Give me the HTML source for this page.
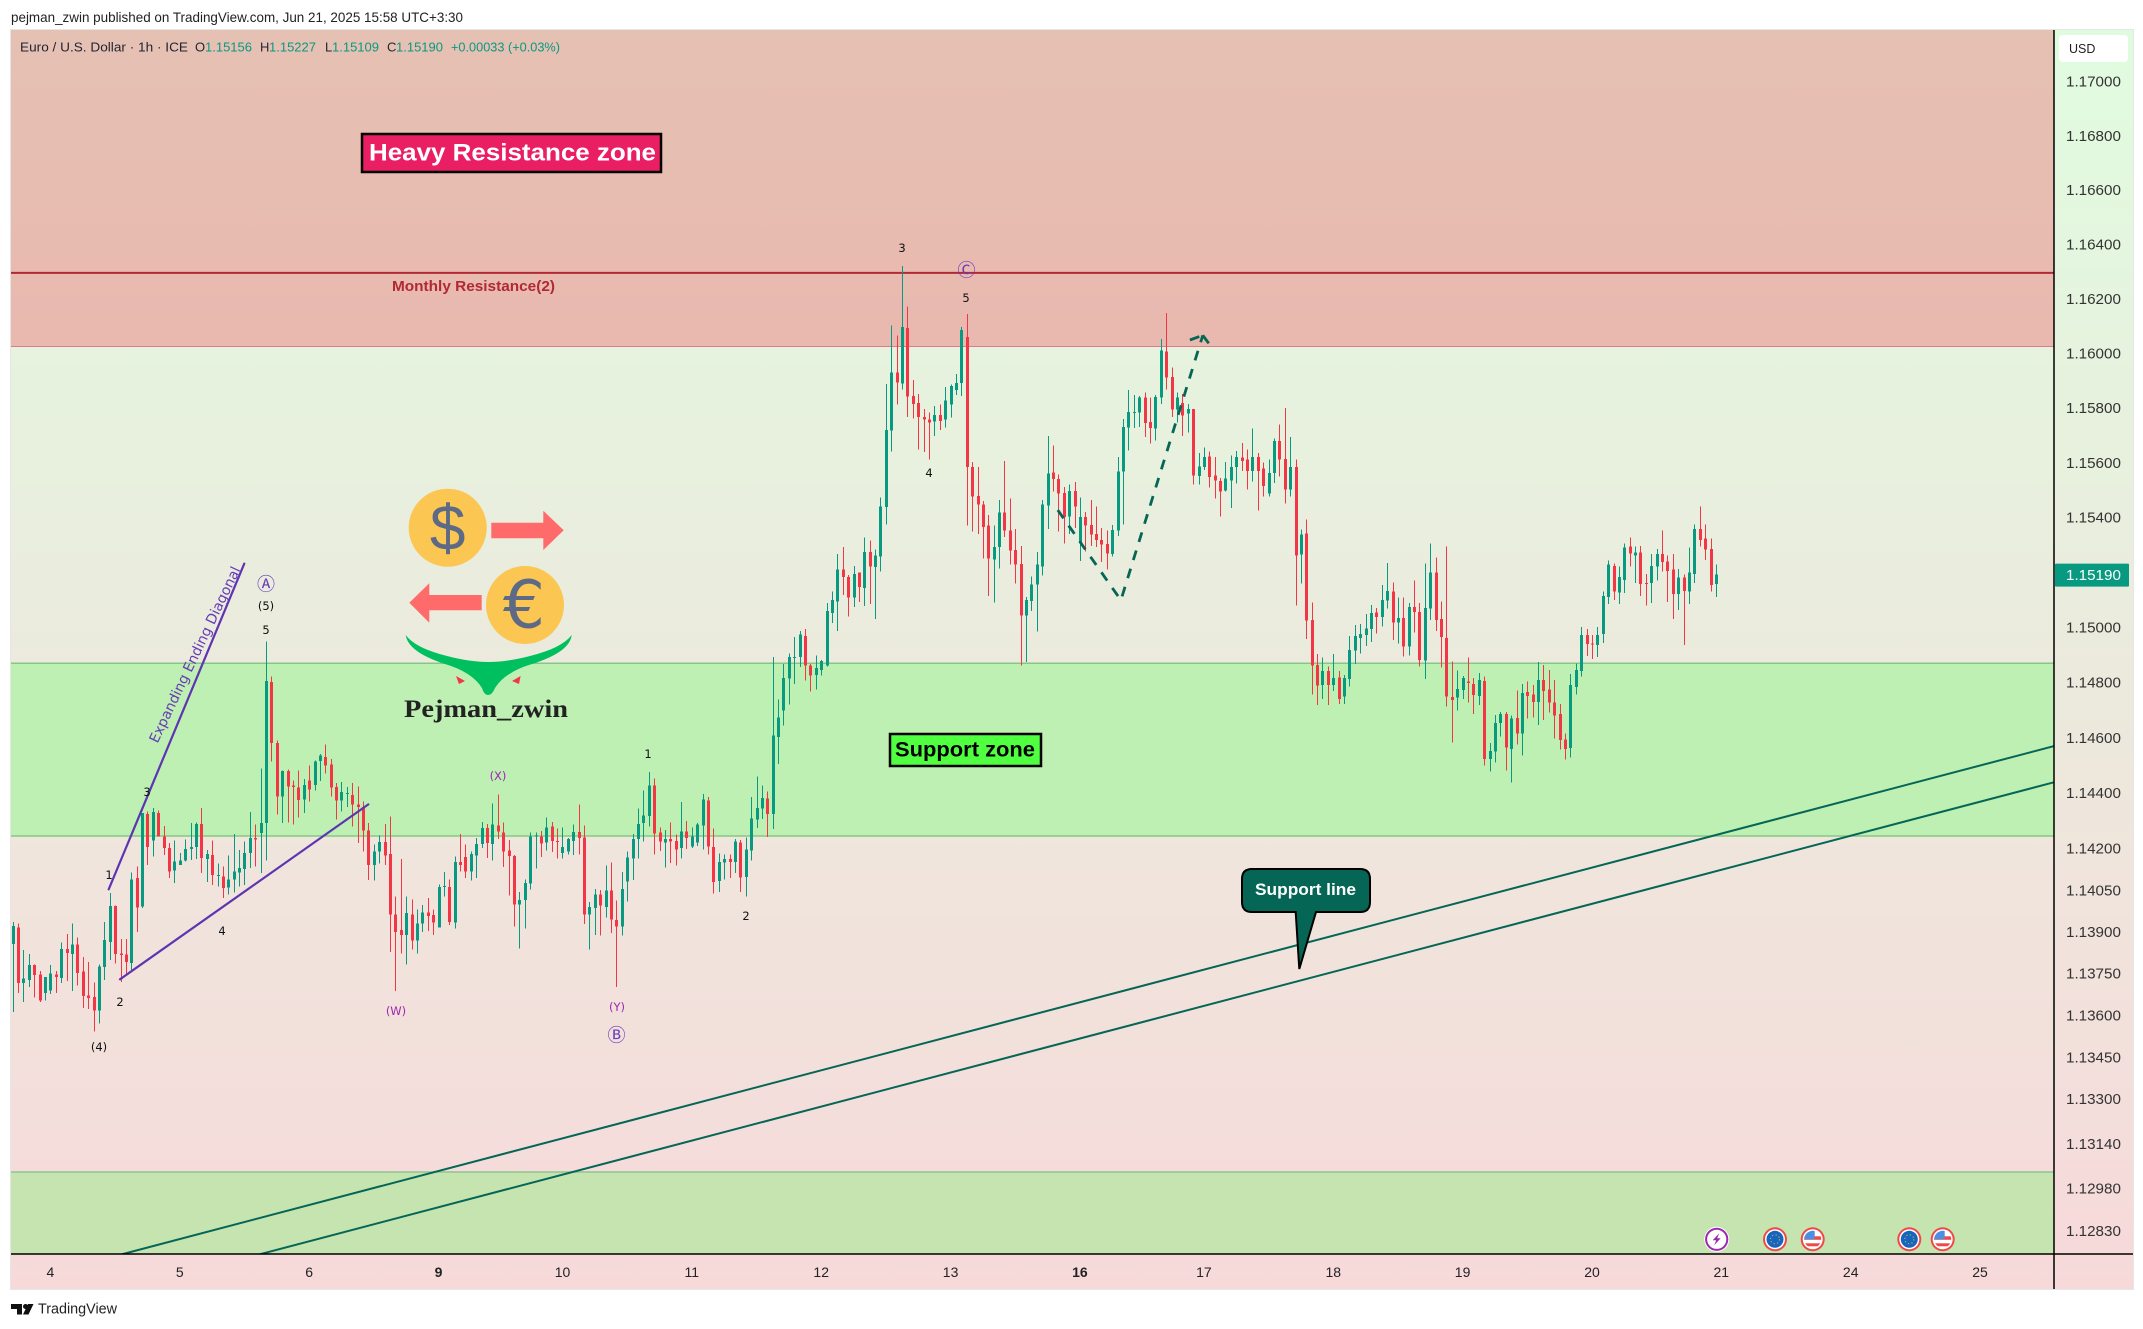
<!DOCTYPE html>
<html lang="en">
<head>
<meta charset="utf-8">
<title>EUR/USD 1h chart</title>
<style>
html,body{margin:0;padding:0;background:#fff;width:2143px;height:1329px;overflow:hidden}
svg{display:block}
text{font-family:"Liberation Sans",Arial,sans-serif}
.wave{font-family:"DejaVu Sans",sans-serif;font-size:11.5px;fill:#111;text-anchor:middle;dominant-baseline:central}
.wavep{font-family:"DejaVu Sans",sans-serif;font-size:11.5px;fill:#9c27b0;text-anchor:middle;dominant-baseline:central}
.circ{font-family:"DejaVu Sans",sans-serif;font-size:18px;fill:#673ab7;text-anchor:middle;dominant-baseline:central}
.leg{font-size:13px;fill:#1f2430;dominant-baseline:central}
.legv{font-size:13px;fill:#089981;dominant-baseline:central}
</style>
</head>
<body>
<svg id="chart" xmlns="http://www.w3.org/2000/svg" width="2143" height="1329" viewBox="0 0 2143 1329">
<defs>
<linearGradient id="bgGrad" x1="0" y1="0" x2="0" y2="1"><stop offset="0" stop-color="#e0fce0"/><stop offset="1" stop-color="#f7d9da"/></linearGradient>
<linearGradient id="resGrad" x1="0" y1="0" x2="0" y2="1"><stop offset="0" stop-color="#e5c1b3"/><stop offset="1" stop-color="#e9b8af"/></linearGradient>
<clipPath id="plotClip"><rect x="11" y="30" width="2043" height="1224"/></clipPath>
<clipPath id="flagClip"><circle r="8.5"/></clipPath>
</defs>
<rect x="10.5" y="29.5" width="2123" height="1260" fill="url(#bgGrad)" stroke="#e6e6e6"/>
<g id="zones"></g>
<g id="supportLines" clip-path="url(#plotClip)"></g>
<g id="candles" shape-rendering="crispEdges"></g>
<g id="drawings"></g>

<text x="11" y="17" font-size="14" fill="#222" dominant-baseline="central" textLength="452" lengthAdjust="spacingAndGlyphs">pejman_zwin published on TradingView.com, Jun 21, 2025 15:58 UTC+3:30</text>

<g>
<text class="leg" x="20" y="47" textLength="168" lengthAdjust="spacingAndGlyphs">Euro / U.S. Dollar · 1h · ICE</text>
<text class="leg" x="195" y="47">O</text><text class="legv" x="205" y="47">1.15156</text>
<text class="leg" x="260" y="47">H</text><text class="legv" x="269" y="47">1.15227</text>
<text class="leg" x="325" y="47">L</text><text class="legv" x="332" y="47">1.15109</text>
<text class="leg" x="387" y="47">C</text><text class="legv" x="396" y="47">1.15190</text>
<text class="legv" x="451" y="47" textLength="109" lengthAdjust="spacingAndGlyphs">+0.00033 (+0.03%)</text>
</g>

<g>
<rect x="362" y="134" width="299" height="38" fill="#e91e63" stroke="#000" stroke-width="2.5"/>
<text x="369" y="153" font-size="24.4" font-weight="bold" fill="#fff" dominant-baseline="central" textLength="287" lengthAdjust="spacingAndGlyphs">Heavy Resistance zone</text>
</g>
<text x="392" y="287" font-size="14.5" font-weight="bold" fill="#b22833" dominant-baseline="central" textLength="163" lengthAdjust="spacingAndGlyphs">Monthly Resistance(2)</text>

<g>
<rect x="890" y="734" width="151" height="32" fill="#50ff40" stroke="#000" stroke-width="2.5"/>
<text x="895" y="750" font-size="21" font-weight="bold" fill="#000" dominant-baseline="central" textLength="140" lengthAdjust="spacingAndGlyphs">Support zone</text>
</g>

<g>
<path d="M1252 869 H1360 Q1370 869 1370 879 V902 Q1370 912 1360 912 H1316 L1299.3 969 L1295.7 912 H1252 Q1242 912 1242 902 V879 Q1242 869 1252 869 Z" fill="#056656" stroke="#000" stroke-width="2"/>
<text x="1255" y="890" font-size="16.5" font-weight="bold" fill="#fff" dominant-baseline="central" textLength="101" lengthAdjust="spacingAndGlyphs">Support line</text>
</g>

<g>
<text class="wave" x="109" y="875">1</text>
<text class="wave" x="147" y="792">3</text>
<text class="wave" x="120" y="1002">2</text>
<text class="wave" x="222" y="931">4</text>
<text class="wave" x="99" y="1047">(4)</text>
<text class="wave" x="266" y="630">5</text>
<text class="wave" x="266" y="606">(5)</text>
<text class="circ" x="266" y="585">Ⓐ</text>
<text class="wavep" x="396" y="1011">(W)</text>
<text class="wavep" x="498" y="776">(X)</text>
<text class="wavep" x="617" y="1007">(Y)</text>
<text class="circ" x="616.5" y="1036">Ⓑ</text>
<text class="wave" x="648" y="754">1</text>
<text class="wave" x="746" y="916">2</text>
<text class="wave" x="902" y="248">3</text>
<text class="circ" x="966.5" y="271">Ⓒ</text>
<text class="wave" x="966" y="298">5</text>
<text class="wave" x="929" y="473">4</text>
<text x="195.5" y="655" font-family="DejaVu Sans" font-size="14" fill="#673ab7" text-anchor="middle" dominant-baseline="central" transform="rotate(-64.5 195.5 655)" style="font-family:'DejaVu Sans',sans-serif">Expanding Ending Diagonal</text>
</g>

<g>
<circle cx="447.7" cy="527.7" r="39" fill="#fbc652"/>
<text x="447.7" y="528" font-size="64" fill="#5d6a85" text-anchor="middle" dominant-baseline="central">$</text>
<polygon points="491.3,522.7 543.3,522.7 543.3,510.7 563.7,530.3 543.3,550 543.3,538.3 491.3,538.3" fill="#ff6b6b"/>
<circle cx="525" cy="605" r="39" fill="#fbc652"/>
<text x="524" y="605" font-size="66" fill="#5d6a85" text-anchor="middle" dominant-baseline="central" style="font-family:'DejaVu Sans',sans-serif">€</text>
<polygon points="481.7,595 429.3,595 429.3,583.3 409.3,602.7 429.3,622.7 429.3,610.3 481.7,610.3" fill="#ff6b6b"/>
<path d="M405.7 635 Q415 648 447 656 Q470 662 488.3 662 Q507 662 530 656 Q562 648 571.7 635 Q570 652 532 664 Q505 672 495 688 Q492 695 488.3 695 Q484 695 482 688 Q472 672 445 664 Q408 652 405.7 635 Z" fill="#00bf5f"/>
<polygon points="456,676 465,681 459,684" fill="#f23645"/>
<polygon points="520.6,676 512,681 519,684" fill="#f23645"/>
<text x="404" y="717" font-size="25" font-weight="bold" fill="#222" textLength="164" lengthAdjust="spacingAndGlyphs" style="font-family:'Liberation Serif',serif">Pejman_zwin</text>
</g>

<g>
<g transform="translate(1716.7,1239.3)"><circle r="12.5" fill="#fff"/><circle r="10.6" fill="#fff" stroke="#9c27b0" stroke-width="2"/><polygon points="2.5,-6 -4,1 -0.5,1 -2.5,6 4,-1 0.5,-1" fill="#9c27b0"/></g>
<g transform="translate(1775,1239.3)"><circle r="12" fill="#f04848"/><circle r="10" fill="#fff"/><circle r="8.5" fill="#1565c0"/><circle r="4.5" fill="none" stroke="#b9b34a" stroke-width="1.2" stroke-dasharray="1.2 2.4"/></g>
<g transform="translate(1812.7,1239.3)"><circle r="12" fill="#f04848"/><circle r="10" fill="#fff"/><g clip-path="url(#flagClip)"><rect x="-9" y="-9" width="18" height="18" fill="#fff"/><rect x="-9" y="-3" width="18" height="3.5" fill="#f04848"/><rect x="-9" y="4" width="18" height="3" fill="#f04848"/><rect x="-9" y="-9" width="11" height="9" fill="#4a90e2"/></g></g>
<g transform="translate(1909.3,1239.3)"><circle r="12" fill="#f04848"/><circle r="10" fill="#fff"/><circle r="8.5" fill="#1565c0"/><circle r="4.5" fill="none" stroke="#b9b34a" stroke-width="1.2" stroke-dasharray="1.2 2.4"/></g>
<g transform="translate(1942.7,1239.3)"><circle r="12" fill="#f04848"/><circle r="10" fill="#fff"/><g clip-path="url(#flagClip)"><rect x="-9" y="-9" width="18" height="18" fill="#fff"/><rect x="-9" y="-3" width="18" height="3.5" fill="#f04848"/><rect x="-9" y="4" width="18" height="3" fill="#f04848"/><rect x="-9" y="-9" width="11" height="9" fill="#4a90e2"/></g></g>
</g>

<line x1="2054" y1="30" x2="2054" y2="1289" stroke="#000" stroke-width="1.5"/>
<line x1="11" y1="1254" x2="2133" y2="1254" stroke="#000" stroke-width="1.5"/>
<g id="priceAxis"></g>
<g id="timeAxis"></g>

<g>
<rect id="lastTag" x="2055" y="564" width="74" height="23" rx="1" fill="#089981"/>
<text id="lastText" x="2066" y="575" font-size="15.2" fill="#fff" dominant-baseline="central">1.15190</text>
</g>
<g>
<rect x="2059" y="35" width="69" height="27" rx="4" fill="#fff"/>
<text x="2069" y="49" font-size="12.5" fill="#222" dominant-baseline="central">USD</text>
</g>

<g>
<path d="M11 1304 H22 V1314.5 H17 V1309 H11 Z" fill="#111"/>
<circle cx="25.5" cy="1306.5" r="2.5" fill="#111"/>
<polygon points="28,1304 33.5,1304 28.5,1314.5 23,1314.5" fill="#111"/>
<text x="38" y="1309" font-size="15" fill="#222" dominant-baseline="central" textLength="79" lengthAdjust="spacingAndGlyphs">TradingView</text>
</g>
</svg>
<script>
const opens=[1.13854,1.13914,1.13714,1.13724,1.13778,1.13745,1.13678,1.13687,1.13745,1.13732,1.13836,1.13818,1.13853,1.13756,1.13669,1.13663,1.13615,1.13772,1.13862,1.13991,1.13820,1.13816,1.13786,1.14091,1.13989,1.14322,1.14227,1.14326,1.14242,1.14200,1.14119,1.14139,1.14155,1.14196,1.14203,1.14286,1.14160,1.14175,1.14101,1.14097,1.14057,1.14087,1.14112,1.14124,1.14181,1.14236,1.14254,1.14290,1.14800,1.14579,1.14386,1.14477,1.14425,1.14419,1.14374,1.14443,1.14428,1.14513,1.14528,1.14501,1.14420,1.14372,1.14396,1.14391,1.14356,1.14348,1.14263,1.14139,1.14187,1.14221,1.14179,1.13961,1.13904,1.13886,1.13961,1.13866,1.13928,1.13968,1.13959,1.13913,1.14061,1.14059,1.13931,1.14149,1.14167,1.14115,1.14173,1.14215,1.14272,1.14215,1.14281,
1.14255,1.14190,1.14171,1.13997,1.14012,1.14072,1.14242,1.14242,1.14219,1.14277,1.14225,1.14181,1.14188,1.14225,1.14257,1.14238,1.13961,1.13984,1.14032,1.13988,1.14046,1.13941,1.13917,1.14079,1.14162,1.14232,1.14290,1.14316,1.14425,1.14255,1.14220,1.14233,1.14225,1.14199,1.14259,1.14206,1.14220,1.14281,1.14371,1.14203,1.14081,1.14148,1.14161,1.14149,1.14220,1.14096,1.14190,1.14303,1.14343,1.14378,1.14322,1.14600,
1.14696,1.14812,1.14887,1.14890,1.14967,1.14860,1.14825,1.14844,1.14860,1.15050,1.15093,1.15208,1.15181,1.15106,1.15197,1.15142,1.15273,1.15217,1.15256,1.15436,1.15716,1.15927,1.15888,1.16090,1.15842,1.15816,1.15765,1.15755,1.15748,1.15773,1.15755,1.15810,1.15864,1.15890,1.16057,1.15582,1.15477,1.15445,1.15369,1.15245,1.15291,1.15416,1.15350,1.15279,1.15228,1.15041,1.15095,1.15154,1.15219,1.15442,1.15562,1.15539,1.15488,1.15402,1.15494,1.15308,1.15399,1.15370,1.15338,1.15317,1.15301,1.15266,1.15351,1.15565,1.15727,1.15781,1.15781,1.15836,1.15747,1.15722,1.15836,1.16005,1.15911,1.15793,1.15816,1.15777,1.15794,1.15549,1.15582,1.15621,1.15552,1.15532,1.15497,1.15533,1.15582,1.15617,1.15610,1.15568,1.15618,
1.15576,1.15485,1.15560,1.15678,1.15612,1.15500,1.15582,1.15263,1.15339,1.15025,1.14862,1.14790,1.14840,1.14790,1.14817,1.14748,1.14811,1.14914,1.14960,1.14970,1.14992,1.15053,1.15036,1.15096,1.15128,1.15016,1.15032,1.14928,1.15072,1.15055,1.14878,1.15066,1.15197,1.15029,1.14960,1.14746,1.14744,1.14772,1.14801,1.14793,1.14750,1.14804,1.14522,1.14548,1.14652,1.14685,1.14558,1.14670,1.14613,1.14764,1.14754,1.14728,1.14808,1.14772,1.14725,1.14685,1.14591,1.14562,1.14782,1.14840,1.14970,1.14940,1.14934,1.14974,1.15109,1.15222,1.15124,1.15171,1.15292,1.15259,1.15270,1.15159,1.15160,1.15219,1.15266,1.15237,1.15208,1.15120,1.15179,1.15128,1.15193,1.15357,1.15321,1.15284,1.15156];
const highs=[1.13934,1.13928,1.13832,1.13818,1.13780,1.13757,1.13736,1.13778,1.13757,1.13859,1.13890,1.13928,1.13878,1.13808,1.13789,1.13715,1.13780,1.13934,1.14037,1.13993,1.13872,1.13872,1.14112,1.14133,1.14326,1.14332,1.14344,1.14336,1.14280,1.14218,1.14226,1.14181,1.14230,1.14290,1.14292,1.14344,1.14193,1.14226,1.14143,1.14133,1.14172,1.14251,1.14193,1.14224,1.14330,1.14284,1.14486,1.14947,1.14820,1.14589,1.14480,1.14483,1.14443,1.14479,1.14449,1.14497,1.14516,1.14539,1.14573,1.14521,1.14434,1.14438,1.14420,1.14434,1.14422,1.14368,1.14290,1.14212,1.14244,1.14286,1.14314,1.14025,1.14160,1.14025,1.14015,1.13979,1.13995,1.14019,1.13979,1.14069,1.14113,1.14087,1.14169,1.14250,1.14212,1.14187,1.14236,1.14294,1.14286,1.14360,1.14392,
1.14291,1.14229,1.14174,1.14042,1.14087,1.14255,1.14255,1.14261,1.14309,1.14294,1.14270,1.14274,1.14236,1.14285,1.14356,1.14281,1.14006,1.14052,1.14048,1.14136,1.14148,1.14010,1.14113,1.14187,1.14251,1.14343,1.14407,1.14474,1.14451,1.14274,1.14265,1.14291,1.14248,1.14365,1.14298,1.14274,1.14290,1.14394,1.14384,1.14270,1.14180,1.14177,1.14177,1.14233,1.14229,1.14238,1.14384,1.14458,1.14425,1.14403,1.14891,1.14736,
1.14866,1.14903,1.14963,1.14986,1.14993,1.14866,1.14896,1.14879,1.15086,1.15129,1.15266,1.15291,1.15188,1.15221,1.15197,1.15325,1.15314,1.15282,1.15471,1.15885,1.16100,1.16064,1.16318,1.16170,1.15901,1.15849,1.15794,1.15781,1.15806,1.15810,1.15875,1.15884,1.15923,1.16094,1.16142,1.15601,1.15582,1.15458,1.15408,1.15369,1.15462,1.15605,1.15467,1.15357,1.15295,1.15109,1.15184,1.15273,1.15462,1.15696,1.15660,1.15555,1.15510,1.15519,1.15527,1.15471,1.15419,1.15462,1.15438,1.15360,1.15350,1.15370,1.15618,1.15757,1.15864,1.15846,1.15842,1.15855,1.15836,1.15846,1.16051,1.16146,1.15946,1.15855,1.15849,1.15812,1.15794,1.15634,1.15653,1.15638,1.15618,1.15542,1.15601,1.15624,1.15640,1.15670,1.15647,1.15722,1.15634,
1.15599,1.15609,1.15686,1.15737,1.15798,1.15692,1.15609,1.15354,1.15390,1.15089,1.14902,1.14889,1.14856,1.14902,1.14840,1.14826,1.14967,1.15007,1.15011,1.15047,1.15080,1.15068,1.15153,1.15232,1.15162,1.15106,1.15106,1.15086,1.15168,1.15086,1.15230,1.15303,1.15253,1.15092,1.15293,1.14874,1.14842,1.14822,1.14889,1.14814,1.14832,1.14820,1.14579,1.14681,1.14692,1.14692,1.14678,1.14769,1.14793,1.14801,1.14790,1.14873,1.14862,1.14844,1.14808,1.14721,1.14613,1.14829,1.14868,1.15000,1.14992,1.14970,1.15000,1.15128,1.15241,1.15230,1.15219,1.15303,1.15325,1.15292,1.15295,1.15193,1.15266,1.15284,1.15350,1.15259,1.15266,1.15211,1.15190,1.15288,1.15372,1.15438,1.15372,1.15321,1.15227];
const lows=[1.13609,1.13678,1.13645,1.13699,1.13661,1.13645,1.13651,1.13675,1.13678,1.13714,1.13721,1.13685,1.13705,1.13624,1.13621,1.13540,1.13569,1.13724,1.13796,1.13784,1.13718,1.13742,1.13760,1.13898,1.13983,1.14139,1.14169,1.14242,1.14175,1.14091,1.14073,1.14139,1.14151,1.14157,1.14160,1.14109,1.14077,1.14067,1.14061,1.14019,1.14033,1.14039,1.14061,1.14067,1.14127,1.14133,1.14109,1.14155,1.14513,1.14320,1.14290,1.14292,1.14284,1.14310,1.14326,1.14368,1.14408,1.14441,1.14468,1.14386,1.14302,1.14332,1.14348,1.14278,1.14218,1.14187,1.14085,1.14083,1.14143,1.14139,1.13826,1.13685,1.13820,1.13781,1.13834,1.13820,1.13898,1.13901,1.13886,1.13913,1.14025,1.13922,1.13910,1.14115,1.14091,1.14083,1.14091,1.14200,1.14163,1.14155,1.14232,
1.14132,1.14029,1.13917,1.13838,1.13910,1.14051,1.14126,1.14167,1.14190,1.14186,1.14161,1.14161,1.14177,1.14174,1.14177,1.13926,1.13835,1.13887,1.13884,1.13949,1.13893,1.13700,1.13884,1.14007,1.14085,1.14162,1.14223,1.14278,1.14177,1.14188,1.14130,1.14145,1.14136,1.14162,1.14197,1.14199,1.14207,1.14194,1.14177,1.14035,1.14042,1.14087,1.14091,1.14110,1.14042,1.14025,1.14155,1.14272,1.14304,1.14239,1.14268,1.14503,
1.14643,1.14718,1.14793,1.14854,1.14806,1.14766,1.14773,1.14824,1.14857,1.15015,1.14986,1.15116,1.15037,1.15073,1.15090,1.15077,1.15084,1.15028,1.15201,1.15373,1.15638,1.15810,1.15866,1.15764,1.15760,1.15647,1.15638,1.15610,1.15696,1.15718,1.15727,1.15764,1.15846,1.15842,1.15369,1.15347,1.15338,1.15249,1.15112,1.15089,1.15213,1.15327,1.15227,1.15158,1.14860,1.14873,1.15058,1.14983,1.15187,1.15356,1.15493,1.15347,1.15304,1.15338,1.15360,1.15240,1.15275,1.15295,1.15291,1.15236,1.15208,1.15256,1.15331,1.15373,1.15643,1.15725,1.15729,1.15692,1.15669,1.15679,1.15813,1.15866,1.15764,1.15744,1.15696,1.15709,1.15519,1.15519,1.15572,1.15507,1.15468,1.15402,1.15493,1.15432,1.15523,1.15568,1.15501,1.15529,1.15423,
1.15475,1.15475,1.15524,1.15548,1.15449,1.15475,1.15078,1.15157,1.14956,1.14754,1.14717,1.14739,1.14717,1.14768,1.14721,1.14721,1.14784,1.14866,1.14904,1.14931,1.14946,1.14976,1.15001,1.15066,1.14952,1.14940,1.14892,1.14896,1.14980,1.14856,1.14811,1.15025,1.14985,1.14852,1.14711,1.14581,1.14696,1.14739,1.14726,1.14685,1.14717,1.14498,1.14476,1.14509,1.14603,1.14479,1.14437,1.14573,1.14534,1.14667,1.14672,1.14645,1.14663,1.14690,1.14595,1.14555,1.14519,1.14527,1.14754,1.14820,1.14895,1.14884,1.14891,1.14942,1.15084,1.15098,1.15084,1.15124,1.15219,1.15160,1.15113,1.15077,1.15087,1.15168,1.15201,1.15091,1.15029,1.15062,1.14934,1.15084,1.15160,1.15292,1.15244,1.15128,1.15109];
const closes=[1.13919,1.13714,1.13730,1.13778,1.13742,1.13651,1.13736,1.13748,1.13736,1.13836,1.13822,1.13853,1.13750,1.13667,1.13660,1.13615,1.13774,1.13868,1.13991,1.13818,1.13815,1.13790,1.14087,1.13985,1.14326,1.14203,1.14330,1.14242,1.14200,1.14115,1.14151,1.14155,1.14196,1.14203,1.14286,1.14163,1.14179,1.14103,1.14103,1.14055,1.14087,1.14115,1.14127,1.14181,1.14236,1.14230,1.14290,1.14804,1.14579,1.14386,1.14477,1.14422,1.14420,1.14374,1.14428,1.14410,1.14513,1.14533,1.14497,1.14419,1.14372,1.14402,1.14398,1.14356,1.14347,1.14263,1.14139,1.14187,1.14221,1.14173,1.13961,1.13898,1.13886,1.13965,1.13866,1.13928,1.13967,1.13955,1.13931,1.14059,1.14063,1.13934,1.14149,1.14139,1.14115,1.14179,1.14215,1.14272,1.14218,1.14284,1.14260,
1.14188,1.14171,1.13997,1.14012,1.14074,1.14242,1.14245,1.14216,1.14274,1.14225,1.14223,1.14203,1.14232,1.14257,1.14236,1.13961,1.13988,1.14032,1.13993,1.14046,1.13942,1.13917,1.14052,1.14165,1.14233,1.14287,1.14317,1.14425,1.14252,1.14223,1.14233,1.14223,1.14194,1.14259,1.14236,1.14242,1.14285,1.14375,1.14206,1.14078,1.14149,1.14161,1.14149,1.14223,1.14094,1.14194,1.14307,1.14345,1.14381,1.14322,1.14606,1.14672,
1.14815,1.14890,1.14890,1.14972,1.14860,1.14824,1.14851,1.14877,1.15058,1.15097,1.15208,1.15181,1.15106,1.15193,1.15145,1.15273,1.15219,1.15260,1.15438,1.15718,1.15927,1.15892,1.16094,1.15840,1.15813,1.15764,1.15756,1.15744,1.15773,1.15751,1.15826,1.15879,1.15890,1.16083,1.15582,1.15475,1.15445,1.15364,1.15249,1.15291,1.15416,1.15350,1.15278,1.15227,1.15041,1.15097,1.15155,1.15226,1.15445,1.15558,1.15539,1.15486,1.15399,1.15494,1.15438,1.15399,1.15369,1.15337,1.15317,1.15299,1.15266,1.15353,1.15565,1.15729,1.15783,1.15783,1.15836,1.15744,1.15724,1.15838,1.16008,1.15910,1.15793,1.15836,1.15770,1.15794,1.15552,1.15585,1.15618,1.15546,1.15533,1.15493,1.15540,1.15582,1.15618,1.15604,1.15568,1.15618,1.15568,
1.15512,1.15560,1.15678,1.15609,1.15500,1.15582,1.15260,1.15336,1.15023,1.14860,1.14787,1.14840,1.14790,1.14814,1.14739,1.14814,1.14916,1.14967,1.14974,1.14995,1.15050,1.15036,1.15098,1.15131,1.15016,1.15032,1.14928,1.15072,1.15055,1.14880,1.15068,1.15197,1.15025,1.14963,1.14748,1.14735,1.14775,1.14814,1.14797,1.14754,1.14808,1.14522,1.14551,1.14652,1.14685,1.14563,1.14667,1.14613,1.14761,1.14750,1.14728,1.14808,1.14768,1.14725,1.14678,1.14591,1.14558,1.14790,1.14844,1.14970,1.14938,1.14937,1.14970,1.15113,1.15226,1.15128,1.15182,1.15288,1.15266,1.15270,1.15157,1.15156,1.15222,1.15266,1.15237,1.15204,1.15120,1.15179,1.15131,1.15197,1.15357,1.15317,1.15281,1.15153,1.15190];

const priceTicks=[1.17,1.168,1.166,1.164,1.162,1.16,1.158,1.156,1.154,1.15,1.148,1.146,1.144,1.142,1.1405,1.139,1.1375,1.136,1.1345,1.133,1.1314,1.1298,1.1283];
const dayLabels=["4","5","6","9","10","11","12","13","16","17","18","19","20","21","24","25"];
const dayBars=[7,31,55,79,102,126,150,174,198,221,245,269,293,317,341,365];
const boldDays=["9","16"];

const resistanceZonePrices=[1.1765,1.16023];
const monthlyResistancePrice=1.16293;
const supportZonePrices=[1.14868,1.14243];
const lowerZonePrices=[1.13037,1.1263];
const upperSupportLine=[[20.3,1.12744],[378.7,1.14568]];
const lowerSupportLine=[[45.9,1.12744],[378.7,1.14437]];
const diagonalUpper=[[17.81,1.14051],[42.97,1.15230]];
const diagonalLower=[[19.9,1.13727],[65.97,1.14357]];
const forecastPath=[[193.9,1.15425],[205.6,1.15097],[220.8,1.16064]];
const forecastHeadLeft=[[218.4,1.16047],[220.8,1.16064]];
const forecastHeadRight=[[220.8,1.16064],[222.4,1.16021]];

const NS='http://www.w3.org/2000/svg';
function xScale(bar){return 12.7+bar*5.39;}
function yScale(price){return 81+31662*(Math.log(1.17)-Math.log(price));}
function make(parent,tag,attrs){
  const el=document.createElementNS(NS,tag);
  for(const k in attrs){el.setAttribute(k,attrs[k]);}
  parent.appendChild(el);
  return el;
}
function pathOf(points){
  return points.map(function(p){return xScale(p[0]).toFixed(1)+','+yScale(p[1]).toFixed(1);}).join(' ');
}

const zones=document.getElementById('zones');
function drawZone(prices,fill,stroke,name,topEdge,bottomEdge){
  const top=Math.max(topEdge,yScale(prices[0]));
  const bottom=Math.min(bottomEdge,yScale(prices[1]));
  const r=make(zones,'rect',{x:11,y:top,width:2043,height:bottom-top,fill:fill});
  
  
  return [top,bottom,stroke];
}
function drawEdge(y,color,w,name){
  const l=make(zones,'line',{x1:11,x2:2054,y1:y,y2:y,stroke:color,'stroke-width':w});
  
  
}
const rz=drawZone(resistanceZonePrices,'url(#resGrad)','#e07a86','resistance-zone',30,1254);
drawEdge(rz[1],rz[2],1,'resistance-zone-edge');
const sz=drawZone(supportZonePrices,'#bdf0b2','#85c885','support-zone',30,1254);
drawEdge(sz[0],sz[2],1.5,'support-zone-top-edge');
drawEdge(sz[1],sz[2],1.5,'support-zone-bottom-edge');
const lz=drawZone(lowerZonePrices,'#c6e4b0','#8fc48f','lower-support-zone',30,1254);
drawEdge(lz[0],lz[2],1.5,'lower-zone-top-edge');
drawEdge(yScale(monthlyResistancePrice),'#b22833',2,'monthly-resistance-line');

const supportLines=document.getElementById('supportLines');
[upperSupportLine,lowerSupportLine].forEach(function(pts,i){
  const l=make(supportLines,'polyline',{points:pathOf(pts),fill:'none',stroke:'#056656','stroke-width':2});
  
  
});

const candles=document.getElementById('candles');
closes.forEach(function(close,i){
  const open=opens[i];
  const color=close>=open?'#089981':'#f23645';
  const cx=Math.round(xScale(i));
  const hy=yScale(highs[i]);
  const ly=yScale(lows[i]);
  const ty=yScale(Math.max(open,close));
  const by=yScale(Math.min(open,close));
  const wick=make(candles,'rect',{x:cx,y:hy.toFixed(1),width:1,height:(ly-hy).toFixed(1),fill:color});
  
  
  const body=make(candles,'rect',{x:cx-1,y:ty.toFixed(1),width:3,height:Math.max(1,by-ty).toFixed(1),fill:color});
  
  
});

const drawings=document.getElementById('drawings');
[[diagonalUpper,'diagonal-upper-line'],[diagonalLower,'diagonal-lower-line']].forEach(function(d){
  const l=make(drawings,'polyline',{points:pathOf(d[0]),fill:'none',stroke:'#5e35b1','stroke-width':2.2,'stroke-linecap':'round'});
  
  
});
[[forecastPath,'forecast-path'],[forecastHeadLeft,'forecast-arrow-left'],[forecastHeadRight,'forecast-arrow-right']].forEach(function(d){
  const l=make(drawings,'polyline',{points:pathOf(d[0]),fill:'none',stroke:'#056656','stroke-width':2.8,'stroke-dasharray':'10 9'});
  
  
});

const priceAxis=document.getElementById('priceAxis');
priceTicks.forEach(function(p){
  const t=make(priceAxis,'text',{x:2066,y:(yScale(p)+1.2).toFixed(1),'font-size':'15.2',fill:'#333','dominant-baseline':'central'});
  t.textContent=p.toFixed(5);
  
  
});
const timeAxis=document.getElementById('timeAxis');
dayLabels.forEach(function(d,i){
  const t=make(timeAxis,'text',{x:xScale(dayBars[i]).toFixed(1),y:1272,'font-size':'14',fill:'#222','text-anchor':'middle','dominant-baseline':'central','font-weight':boldDays.indexOf(d)>=0?'bold':'normal'});
  t.textContent=d;
  
  
});

const last=closes[closes.length-1];
const lastY=yScale(last);
document.getElementById('lastTag').setAttribute('y',(lastY-11).toFixed(1));
document.getElementById('lastText').setAttribute('y',(lastY+1).toFixed(1));
document.getElementById('lastText').textContent=last.toFixed(5);
</script>
</body>
</html>
